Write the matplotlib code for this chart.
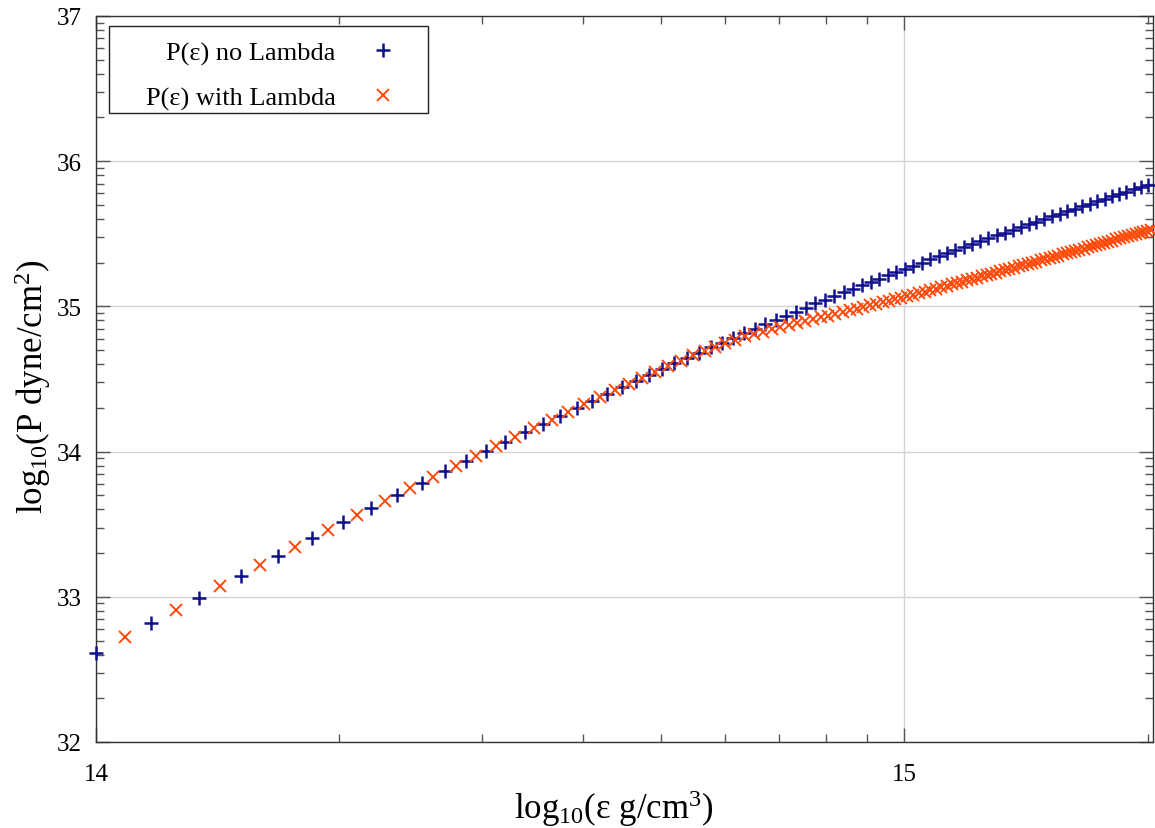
import numpy as np
import matplotlib
matplotlib.use("Agg")
import matplotlib.pyplot as plt
from matplotlib.ticker import LogLocator, FuncFormatter, NullFormatter
from matplotlib.patches import Rectangle

plt.rcParams['font.family'] = ['Liberation Serif', 'DejaVu Serif']
plt.rcParams['mathtext.fontset'] = 'custom'
plt.rcParams['mathtext.rm'] = 'Liberation Serif'
plt.rcParams['mathtext.it'] = 'Liberation Serif:italic'
plt.rcParams['mathtext.bf'] = 'Liberation Serif:bold'

# ---------------- data (energy density in units of 1e14 g/cm^3, log10 P in dyne/cm^2)
eps_no_lambda = [
    1.00, 1.17, 1.34, 1.51, 1.68, 1.85, 2.02, 2.19, 2.36, 2.53, 2.70, 2.87, 3.04, 3.21,
    3.39, 3.57, 3.75, 3.93, 4.11, 4.29, 4.47, 4.65, 4.83, 5.01, 5.19, 5.38, 5.57, 5.76, 5.95,
    6.14, 6.33, 6.53, 6.73, 6.93, 7.13, 7.34, 7.55, 7.76, 7.97, 8.19, 8.41, 8.63, 8.85, 9.08,
    9.31, 9.54, 9.77, 10.01,
    10.25, 10.50, 10.76, 11.02, 11.29, 11.56, 11.84, 12.12, 12.41, 12.70, 13.00, 13.30, 13.61,
    13.92, 14.24, 14.56, 14.89, 15.22, 15.56, 15.90, 16.25, 16.60, 16.96, 17.32, 17.69, 18.06,
    18.44, 18.82, 19.21, 19.60, 19.99]
logP_no_lambda = [
    32.614, 32.818, 32.993, 33.146, 33.281, 33.402, 33.512, 33.611, 33.703, 33.787, 33.865,
    33.937, 34.005, 34.069,
    34.132, 34.191, 34.247, 34.301, 34.351, 34.399, 34.444, 34.487, 34.529, 34.569, 34.607,
    34.645, 34.682, 34.717, 34.751,
    34.784, 34.816, 34.847, 34.877, 34.907, 34.935, 34.964, 34.992, 35.020, 35.046, 35.072,
    35.097, 35.121, 35.144, 35.168, 35.192, 35.215, 35.237, 35.260,
    35.281, 35.302, 35.324, 35.345, 35.366, 35.387, 35.408, 35.429, 35.449, 35.469, 35.489,
    35.508, 35.527, 35.546, 35.565, 35.583, 35.602, 35.620, 35.639, 35.657, 35.674, 35.691,
    35.708, 35.724, 35.741, 35.757, 35.774, 35.790, 35.806, 35.822, 35.837]

eps_with_lambda = [
    1.085, 1.255, 1.425, 1.595, 1.765, 1.935, 2.105, 2.275, 2.445, 2.615, 2.785, 2.955, 3.125,
    3.30, 3.48, 3.66, 3.84, 4.02, 4.20, 4.38, 4.56, 4.74, 4.92, 5.10, 5.285, 5.475, 5.665,
    5.835, 6.005, 6.175, 6.345, 6.515, 6.685, 6.855, 7.025, 7.195, 7.365, 7.535, 7.705, 7.875,
    8.045, 8.215, 8.385, 8.555, 8.725, 8.895, 9.065, 9.235, 9.405, 9.575, 9.745, 9.915, 10.085,
    10.255, 10.425, 10.595, 10.765, 10.935, 11.105, 11.275, 11.445, 11.615, 11.785, 11.955,
    12.125, 12.295, 12.465, 12.635, 12.805, 12.975, 13.145, 13.315, 13.485,
    13.66, 13.84, 14.02, 14.20, 14.38, 14.565, 14.75, 14.935, 15.12, 15.31, 15.50, 15.69,
    15.88, 16.075, 16.27, 16.465, 16.66, 16.86, 17.06, 17.26, 17.46, 17.665, 17.87, 18.075,
    18.28, 18.49, 18.70, 18.91, 19.12, 19.33, 19.54, 19.755, 19.97, 20.185]
logP_with_lambda = [
    32.720, 32.909, 33.072, 33.216, 33.343, 33.459, 33.563, 33.658, 33.746, 33.827, 33.901,
    33.971, 34.038,
    34.101, 34.162, 34.220, 34.275, 34.327, 34.375, 34.421, 34.466, 34.509, 34.550, 34.588,
    34.626, 34.663, 34.695,
    34.722, 34.747, 34.771, 34.793, 34.810, 34.826, 34.842, 34.857, 34.872, 34.885, 34.899,
    34.912, 34.925, 34.937, 34.950, 34.962, 34.974, 34.985, 34.997, 35.008, 35.019, 35.029,
    35.040, 35.050, 35.060, 35.070, 35.081, 35.091, 35.102, 35.112, 35.122, 35.131, 35.141,
    35.151, 35.161, 35.170, 35.179, 35.189, 35.198, 35.207, 35.215, 35.224, 35.233, 35.242,
    35.250, 35.258,
    35.267, 35.275, 35.284, 35.292, 35.301, 35.309, 35.318, 35.326, 35.334, 35.342, 35.350,
    35.358, 35.366, 35.375, 35.383, 35.391, 35.398, 35.406, 35.414, 35.422, 35.430, 35.438,
    35.445, 35.453, 35.461, 35.468, 35.476, 35.484, 35.491, 35.498, 35.506, 35.513, 35.521,
    35.528]

series_labels = ['P(ε) no Lambda', 'P(ε) with Lambda']
x_label = 'log$_{10}$(ε g/cm$^{3}$)'
y_label = 'log$_{10}$(P dyne/cm$^{2}$)'

EPS_UNIT = 1e14
X_RANGE = (1e14, 2.03e15)
Y_RANGE = (1e32, 1e37)

BLUE = '#10108f'
ORANGE = '#ff4a0a'
FS_TICK = 18
FS_LABEL = 25
FS_LEG = 19

fig = plt.figure(figsize=(11.55, 8.29), dpi=100)
ax = fig.add_axes([96 / 1155, 1 - 743 / 829, 1057 / 1155, 726 / 829])
ax.set_xscale('log')
ax.set_yscale('log')
ax.set_xlim(*X_RANGE)
ax.set_ylim(*Y_RANGE)

x1 = np.array(eps_no_lambda) * EPS_UNIT
y1 = 10.0 ** np.array(logP_no_lambda)
x2 = np.array(eps_with_lambda) * EPS_UNIT
y2 = 10.0 ** np.array(logP_with_lambda)

ax.plot(x1, y1, linestyle='none', marker='+', ms=9.6, mew=1.8, color=BLUE,
        label=series_labels[0], clip_on=False, zorder=3)
ax.plot(x2, y2, linestyle='none', marker='x', ms=8.6, mew=1.4, color=ORANGE,
        label=series_labels[1], clip_on=False, zorder=3)

ax.grid(True, which='major', color='#d2d2d2', lw=1.0)
ax.set_axisbelow(True)

logfmt = FuncFormatter(lambda v, p: f"{int(round(np.log10(v)))}")
for axis in (ax.xaxis, ax.yaxis):
    axis.set_major_locator(LogLocator(base=10, numticks=20))
    axis.set_minor_locator(LogLocator(base=10, subs=np.arange(2, 10), numticks=20))
    axis.set_major_formatter(logfmt)
    axis.set_minor_formatter(NullFormatter())

ax.tick_params(which='both', direction='in', top=True, right=True,
               color='#555555', labelsize=FS_TICK, labelcolor='black')
ax.tick_params(which='major', length=10, width=1.0)
ax.tick_params(which='minor', length=6, width=1.0)
ax.tick_params(axis='x', which='major', pad=15)
ax.tick_params(axis='y', which='major', pad=10)

for s in ax.spines.values():
    s.set_color('#333333')
    s.set_linewidth(1.0)

ax.set_xlabel(x_label, fontsize=FS_LABEL)
ax.xaxis.set_label_coords(0.49, -0.063)
ax.set_ylabel(y_label, fontsize=FS_LABEL)
ax.yaxis.set_label_coords(-0.041, 0.49)

# legend box (gnuplot style: labels right-aligned, symbols to the right)
ax.add_patch(Rectangle((0.0123, 0.8664), 0.3018, 0.1198, transform=ax.transAxes,
                       facecolor='white', edgecolor='#222222', lw=1.0,
                       zorder=4, clip_on=False))
leg = ax.legend(loc='upper right', bbox_to_anchor=(0.2867, 0.9655), frameon=False,
                markerfirst=False, handlelength=1.2, handletextpad=1.2,
                borderpad=0, borderaxespad=0, labelspacing=0.8, fontsize=FS_LEG,
                numpoints=1)
leg.set_zorder(5)

fig.savefig('out.png', dpi=100)
